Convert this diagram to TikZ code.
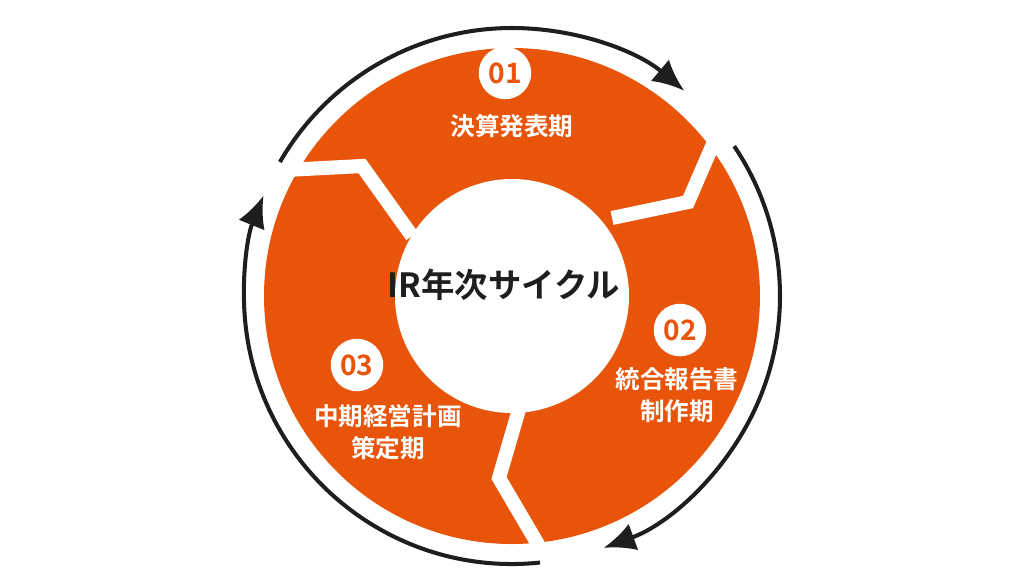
\documentclass[tikz,border=0pt]{standalone}
\usepackage{fontspec}
\newfontfamily\jpfont{Noto Sans CJK JP}[BoldFont=* Bold]
\usetikzlibrary{arrows.meta}
\definecolor{irorange}{RGB}{232,84,10}
\definecolor{irdark}{RGB}{30,30,30}
\tikzset{
  cycarrow/.style={draw=irdark, line width=2.3pt, -{Latex[length=18pt,width=16pt]}},
  divider/.style={draw=white, line width=8pt, line join=miter},
  badge/.style={circle, fill=white, minimum size=1.05cm, inner sep=0pt, text=irorange, font=\jpfont\bfseries\fontsize{16}{16}\selectfont},
  phase/.style={text=white, align=center, font=\jpfont\bfseries\fontsize{14}{18}\selectfont}
}
\begin{document}
\begin{tikzpicture}[x=0.02cm, y=0.02cm]

	\useasboundingbox (-512,-280) rectangle (512,296);

	%ring
	\fill[irorange] (0,0) circle (248);

	%dividers
	\draw[divider] (-100,60) -- (-150,130) -- (-265,124);
	\draw[divider] (100,78) -- (176,94) -- (208,168);
	\draw[divider] (8,-110) -- (-13,-182) -- (34,-262);

	%hub
	\fill[white] (0,0) circle (117);
	\node[font=\jpfont\bfseries\fontsize{19}{19}\selectfont, text=irdark] (hub) at (-8,11) {IR年次サイクル};

	%cycle arrows
	\draw[cycarrow] (150:268) arc (150:50:268);
	\draw[cycarrow] (34:268) arc (34:-70:268);
	\draw[cycarrow] (-84:268) arc (-84:-202:268);

	%phases
	\node[badge] (b1) at (-7,223) {01};
	\node[phase] (p1) at (0,170) {決算発表期};
	\node[badge] (b2) at (168,-34) {02};
	\node[phase] (p2) at (165,-99) {統合報告書\\制作期};
	\node[badge] (b3) at (-155,-69) {03};
	\node[phase] (p3) at (-124,-136) {中期経営計画\\策定期};

\end{tikzpicture}
\end{document}
